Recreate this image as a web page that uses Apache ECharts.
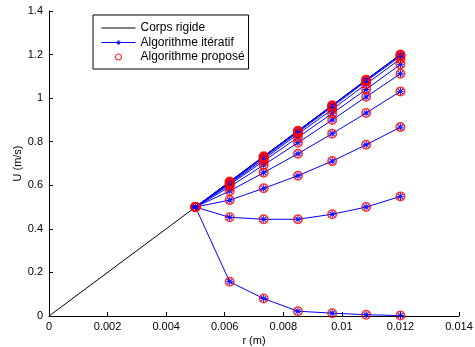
<!DOCTYPE html>
<html><head><meta charset="utf-8">
<script src="https://cdn.jsdelivr.net/npm/echarts@6/dist/echarts.min.js"></script>
<style>html,body{margin:0;padding:0;background:#fff}#c{width:475px;height:347px}</style>
</head><body><div id="c"></div>
<script>
// Data
var rPoints = [0.005, 0.00617, 0.00733, 0.0085, 0.00967, 0.01083, 0.012];
var rigidR = [0, 0.012];
var rigidU = [0, 1.2];
var curve1 = [0.5, 0.157, 0.080, 0.022, 0.013, 0.006, 0.002];
var curve2 = [0.5, 0.453, 0.444, 0.444, 0.467, 0.500, 0.549];
var curve3 = [0.5, 0.532, 0.586, 0.644, 0.711, 0.786, 0.867];
var curve4 = [0.5, 0.574, 0.658, 0.745, 0.837, 0.932, 1.031];
var curve5 = [0.5, 0.593, 0.693, 0.795, 0.900, 1.006, 1.112];
var curve6 = [0.5, 0.603, 0.711, 0.820, 0.930, 1.040, 1.155];
var curve7 = [0.5, 0.608, 0.720, 0.835, 0.948, 1.065, 1.180];
var curve8 = [0.5, 0.612, 0.727, 0.843, 0.960, 1.078, 1.192];
var curve9 = [0.5, 0.615, 0.731, 0.848, 0.965, 1.083, 1.198];
var curve10 = [0.5, 0.617, 0.733, 0.850, 0.967, 1.085, 1.200];
var curves = [curve1, curve2, curve3, curve4, curve5, curve6, curve7, curve8, curve9, curve10];
var xTicks = ['0', '0.002', '0.004', '0.006', '0.008', '0.01', '0.012', '0.014'];
var yTicks = ['0', '0.2', '0.4', '0.6', '0.8', '1', '1.2', '1.4'];
var names = ['Corps rigide', 'Algorithme itératif', 'Algorithme proposé'];

function pairs(xs, ys) { return xs.map(function (x, i) { return [x, ys[i]]; }); }
// asterisk made of thin filled bars
var star = 'path://M-0.13,-1L0.13,-1L0.13,1L-0.13,1Z' +
  'M-1,-0.13L1,-0.13L1,0.13L-1,0.13Z' +
  'M-0.8,-0.61L-0.61,-0.8L0.8,0.61L0.61,0.8Z' +
  'M-0.8,0.61L-0.61,0.8L0.8,-0.61L0.61,-0.8Z';
var font = 'Liberation Sans, Arial, sans-serif';

var series = [{
  name: names[0], type: 'line', data: pairs(rigidR, rigidU), symbol: 'none',
  lineStyle: { color: '#000', width: 1 }, itemStyle: { color: '#000' }, z: 1
}];
curves.forEach(function (c) {
  series.push({
    name: names[1], type: 'line', data: pairs(rPoints, c), symbol: star, symbolSize: 7,
    showAllSymbol: true,
    lineStyle: { color: '#0000ff', width: 1 },
    itemStyle: { color: '#0000ff' }, z: 2, emphasis: { disabled: true }
  });
});
curves.forEach(function (c) {
  series.push({
    name: names[2], type: 'scatter', data: pairs(rPoints, c), symbol: 'circle', symbolSize: 8.5,
    itemStyle: { color: 'rgba(255,255,255,0)', borderColor: '#ff0000', borderWidth: 1.5 }, z: 3,
    emphasis: { disabled: true }
  });
});

var chart = echarts.init(document.getElementById('c'), null, { renderer: 'canvas' });
chart.setOption({
  animation: false,
  backgroundColor: '#fff',
  grid: { left: 49, right: 16, top: 11, bottom: 31, containLabel: false, outerBoundsMode: 'none' },
  legend: {
    data: [
      { name: names[0], itemStyle: { opacity: 0 } },
      { name: names[1] },
      { name: names[2], itemStyle: { borderWidth: 1.2 } }
    ],
    orient: 'vertical', left: 93, top: 15, padding: [7, 4, 6, 8],
    itemWidth: 34, itemHeight: 6, itemGap: 2.5,
    lineStyle: { width: 1 },
    borderColor: '#000', borderWidth: 1, backgroundColor: '#fff',
    textStyle: { fontFamily: font, fontSize: 12, color: '#000', lineHeight: 11 },
    selectedMode: false
  },
  xAxis: {
    type: 'value', min: 0, max: 0.014, interval: 0.002,
    name: 'r (m)', nameLocation: 'middle', nameGap: 19, nameMoveOverlap: false,
    nameTextStyle: { fontFamily: font, fontSize: 11, color: '#000' },
    axisLine: { lineStyle: { color: '#000', width: 1 } },
    axisTick: { inside: true, length: 4, lineStyle: { color: '#000' } },
    axisLabel: { fontFamily: font, fontSize: 11, color: '#000', margin: 5,
      formatter: function (v) { var i = Math.round(v / 0.002); return xTicks[i]; } },
    splitLine: { show: false }
  },
  yAxis: {
    type: 'value', min: 0, max: 1.4, interval: 0.2,
    name: 'U (m/s)', nameLocation: 'middle', nameGap: 26, nameRotate: 90, nameMoveOverlap: false,
    nameTextStyle: { fontFamily: font, fontSize: 11, color: '#000' },
    axisLine: { show: true, lineStyle: { color: '#000', width: 1 } },
    axisTick: { show: true, inside: true, length: 4, lineStyle: { color: '#000' } },
    axisLabel: { fontFamily: font, fontSize: 11, color: '#000', margin: 6,
      formatter: function (v) { var i = Math.round(v / 0.2); return yTicks[i]; } },
    splitLine: { show: false }
  },
  series: series
});
</script></body></html>
